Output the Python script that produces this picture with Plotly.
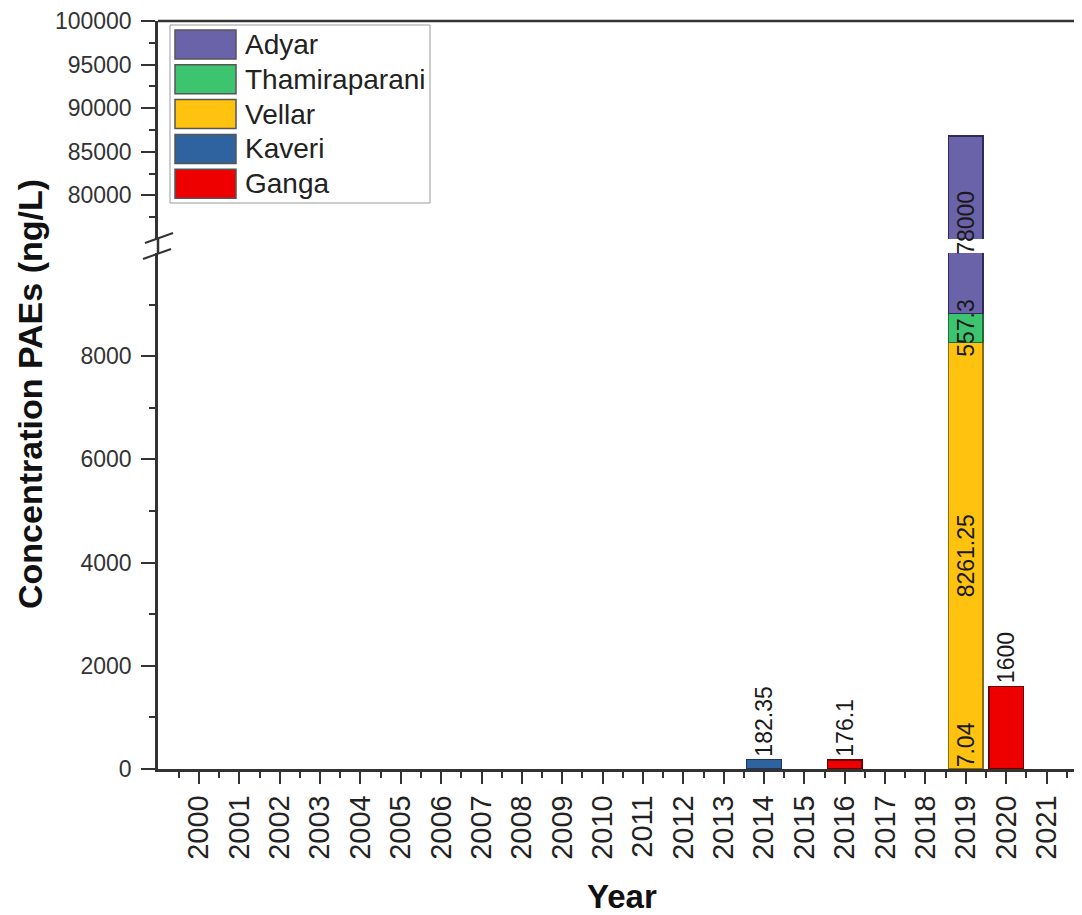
import plotly.graph_objects as go

# ---------------- data ----------------
years = list(range(2000, 2022))
series_names = ["Ganga", "Kaveri", "Vellar", "Thamiraparani", "Adyar"]  # bottom -> top

ganga_years = [2016, 2020]
ganga_vals = [176.1, 1600]
kaveri_years = [2014, 2019]
kaveri_vals = [182.35, 7.04]
vellar_years = [2019]
vellar_vals = [8261.25]
thamiraparani_years = [2019]
thamiraparani_vals = [557.3]
adyar_years = [2019]
adyar_vals = [78000]

fill_colors = ["#EE0000", "#2E63A0", "#FEC20F", "#3DC46F", "#6A63A9"]
line_colors = ["#6E0000", "#1A3760", "#8A6B10", "#1D6A3A", "#2E2A5C"]

lower_ticks = [0, 2000, 4000, 6000, 8000]
upper_ticks = [80000, 85000, 90000, 95000, 100000]
lower_minor = [1000, 3000, 5000, 7000, 9000]
upper_minor = [77500, 82500, 87500, 92500, 97500]
lower_range = [0, 10000]
upper_range = [75000, 100000]

series = [
    (ganga_years, ganga_vals),
    (kaveri_years, kaveri_vals),
    (vellar_years, vellar_vals),
    (thamiraparani_years, thamiraparani_vals),
    (adyar_years, adyar_vals),
]

# ---------------- layout geometry ----------------
# the page body has an 8px margin; work in screenshot pixels and subtract it
OFF = 8
W, H = 1082 - OFF, 915 - OFF
REF_L, REF_T, REF_B = 158, 21, 769        # plot-area edges in screenshot pixels
L = REF_L - OFF
T = REF_T - OFF
B = H - (REF_B - OFF)
R = 0
PW = W - L - R
PH = H - T - B
lower_top_px = 253
upper_bot_px = 239


def xp(px):
    return (px - REF_L) / PW


def yp(py):
    return (REF_B - py) / PH


FONT = "Arial, Liberation Sans, sans-serif"
AXC = "#333333"

fig = go.Figure()
for (yrs, vals), name, fc, lc in zip(series, series_names, fill_colors, line_colors):
    for ya in ["y", "y2"]:
        fig.add_trace(go.Bar(
            x=yrs, y=vals, name=name, xaxis="x", yaxis=ya,
            marker=dict(color=fc, line=dict(color=lc, width=1.5)),
            showlegend=False, hoverinfo="x+y+name",
        ))

# ---------------- value labels ----------------
base = {y: 0.0 for y in years}
annotations = []
lab_font = dict(family=FONT, size=23, color="#1a1a1a")
for (yrs, vals), name in zip(series, series_names):
    for yr, v in zip(yrs, vals):
        b = base[yr]
        txt = f"{v:g}"
        common = dict(x=yr, xref="x", text=txt, textangle=-90, showarrow=False,
                      xanchor="center", font=lab_font)
        if yr == 2019:
            if name == "Adyar":
                annotations.append(dict(y=upper_range[0], yref="y2", yanchor="middle",
                                        yshift=16, **common))
            elif v < 100:
                annotations.append(dict(y=b, yref="y", yanchor="bottom", **common))
            else:
                annotations.append(dict(y=b + v / 2, yref="y", yanchor="middle", **common))
        else:
            annotations.append(dict(y=b + v, yref="y", yanchor="bottom", yshift=1, **common))
        base[yr] = b + v

# axis titles
annotations.append(dict(x=xp(30), y=yp(394), xref="paper", yref="paper",
                        xanchor="center", yanchor="middle",
                        text="<b>Concentration PAEs (ng/L)</b>", textangle=-90,
                        showarrow=False, font=dict(family=FONT, size=34, color="#111")))
annotations.append(dict(x=xp(622), y=yp(896), xref="paper", yref="paper",
                        xanchor="center", yanchor="middle",
                        text="<b>Year</b>", showarrow=False,
                        font=dict(family=FONT, size=33, color="#111")))

# ---------------- custom legend ----------------
shapes = []
shapes.append(dict(type="rect", xref="paper", yref="paper",
                   x0=xp(170), x1=xp(430), y0=yp(203), y1=yp(25),
                   line=dict(color="#9a9a9a", width=1), fillcolor="white", layer="above"))
leg_order = ["Adyar", "Thamiraparani", "Vellar", "Kaveri", "Ganga"]
for i, nm in enumerate(leg_order):
    k = series_names.index(nm)
    top = 30 + i * 34.8
    shapes.append(dict(type="rect", xref="paper", yref="paper",
                       x0=xp(175), x1=xp(236), y0=yp(top + 29), y1=yp(top),
                       line=dict(color="#555", width=1.5), fillcolor=fill_colors[k], layer="above"))
    annotations.append(dict(x=xp(243), y=yp(top + 14.5), xref="paper", yref="paper",
                            text=nm, showarrow=False, xanchor="left", yanchor="middle",
                            font=dict(family=FONT, size=28, color="#222")))

# top frame line
shapes.append(dict(type="line", xref="paper", yref="paper", x0=0, x1=1, y0=1, y1=1,
                   line=dict(color=AXC, width=2.5)))
# axis line through the break
shapes.append(dict(type="line", xref="paper", yref="paper", x0=0, x1=0,
                   y0=yp(lower_top_px), y1=yp(upper_bot_px), line=dict(color=AXC, width=2.5)))
# break marks
shapes.append(dict(type="line", xref="paper", yref="paper", x0=xp(145), x1=xp(173),
                   y0=yp(243), y1=yp(233), line=dict(color=AXC, width=2)))
shapes.append(dict(type="line", xref="paper", yref="paper", x0=xp(143), x1=xp(171),
                   y0=yp(259), y1=yp(249), line=dict(color=AXC, width=2)))

px_per_year = 40.36
x_lo = 2000 - (199 - REF_L) / px_per_year
x_hi = x_lo + PW / px_per_year

ytick_font = dict(family=FONT, size=23, color="#333")

fig.update_layout(
    width=W, height=H,
    margin=dict(l=L, r=R, t=T, b=B, pad=0),
    paper_bgcolor="white", plot_bgcolor="white",
    barmode="stack", bargap=0.14,
    showlegend=False,
    annotations=annotations, shapes=shapes,
    font=dict(family=FONT, color="#333"),
    xaxis=dict(
        range=[x_lo, x_hi], tickmode="array", tickvals=years, ticktext=[str(y) for y in years],
        tickangle=-90, tickfont=dict(family=FONT, size=29, color="#222"),
        ticks="outside", ticklen=12, tickwidth=2, tickcolor=AXC,
        minor=dict(tick0=1999.5, dtick=1, ticks="outside", ticklen=6, tickwidth=2, tickcolor=AXC),
        showline=True, linecolor=AXC, linewidth=2.5, showgrid=False, zeroline=False,
        anchor="y", fixedrange=True, automargin=False,
    ),
    yaxis=dict(
        domain=[0, yp(lower_top_px)], range=lower_range,
        tickmode="array", tickvals=lower_ticks, ticktext=[str(v) for v in lower_ticks],
        tickfont=ytick_font,
        ticks="outside", ticklen=14, tickwidth=2, tickcolor=AXC,
        minor=dict(tickmode="array", tickvals=lower_minor,
                   ticks="outside", ticklen=6, tickwidth=2, tickcolor=AXC),
        showline=True, linecolor=AXC, linewidth=2.5, showgrid=False, zeroline=False,
        anchor="x", ticklabelstandoff=5, automargin=False,
    ),
    yaxis2=dict(
        domain=[yp(upper_bot_px), 1], range=upper_range,
        tickmode="array", tickvals=upper_ticks, ticktext=[str(v) for v in upper_ticks],
        tickfont=ytick_font,
        ticks="outside", ticklen=14, tickwidth=2, tickcolor=AXC,
        minor=dict(tickmode="array", tickvals=upper_minor,
                   ticks="outside", ticklen=6, tickwidth=2, tickcolor=AXC),
        showline=True, linecolor=AXC, linewidth=2.5, showgrid=False, zeroline=False,
        anchor="x", ticklabelstandoff=5, automargin=False,
    ),
)

fig.write_html("out.html")
